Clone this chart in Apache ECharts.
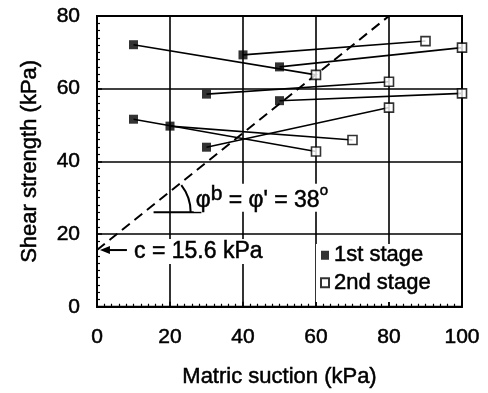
<!DOCTYPE html>
<html>
<head>
<meta charset="utf-8">
<script src="https://cdn.jsdelivr.net/npm/echarts@6/dist/echarts.min.js"></script>
<style>
  html, body { margin: 0; padding: 0; background: #fff; }
  #chart { width: 488px; height: 393px; }
</style>
</head>
<body>
<div id="chart"></div>
<script>
var xTicks = [0, 20, 40, 60, 80, 100];
var yTicks = [0, 20, 40, 60, 80];

// 1st stage point i is joined to 2nd stage point i
var stage1 = [[10, 72.1], [40, 69.3], [50, 66.0], [30, 58.5], [50, 56.7], [10, 51.6], [20, 49.7], [30, 43.9]];
var stage2 = [[60, 63.8], [90, 73.1], [100, 71.3], [80, 61.9], [100, 58.7], [60, 42.7], [70, 45.9], [80, 54.8]];

// failure envelope, c = 15.6 kPa
var envelope = [[0, 15.6], [80, 80]];

var font = '"Liberation Sans", Arial, sans-serif';
var bold = 0.5; // scanned text looks a bit heavy

var series = [];
for (var i = 0; i < stage1.length; i++) {
    series.push({
        type: 'line',
        data: [stage1[i], stage2[i]],
        symbol: 'none',
        silent: true,
        lineStyle: { color: '#000', width: 1.6 },
        z: 3
    });
}

series.push({
    type: 'line',
    data: envelope,
    symbol: 'none',
    silent: true,
    lineStyle: { color: '#000', width: 2, type: [10, 6] },
    z: 3
});

// angle mark, arrow and the two notes
series.push({
    type: 'custom',
    silent: true,
    z: 4,
    data: [[0, 0]],
    renderItem: function (params, api) {
        var c = api.coord([13.6, 26]);
        var b1 = api.coord([15.5, 26]);
        var b2 = api.coord([28.6, 26]);
        var a1 = api.coord([0.8, 15.6]);
        var a2 = api.coord([8.2, 15.6]);
        var t1 = api.coord([26.5, 30]);
        var t2 = api.coord([9.6, 15.2]);
        return {
            type: 'group',
            children: [
                { type: 'line', shape: { x1: b1[0], y1: b1[1], x2: b2[0], y2: b2[1] }, style: { stroke: '#000', lineWidth: 2 } },
                { type: 'arc', shape: { cx: c[0], cy: c[1], r: 44, startAngle: -38 * Math.PI / 180, endAngle: 0, clockwise: true }, style: { stroke: '#000', lineWidth: 2, fill: null } },
                { type: 'line', shape: { x1: a1[0] + 6, y1: a1[1], x2: a2[0], y2: a2[1] }, style: { stroke: '#000', lineWidth: 2 } },
                { type: 'polygon', shape: { points: [[a1[0], a1[1]], [a1[0] + 10, a1[1] - 4], [a1[0] + 10, a1[1] + 4]] }, style: { fill: '#000' } },
                {
                    type: 'text', x: t2[0], y: t2[1],
                    style: { text: 'c = 15.6 kPa', font: '23px ' + font, fill: '#000', stroke: '#000', lineWidth: bold, verticalAlign: 'middle', backgroundColor: '#fff', padding: [1, 2] }
                },
                {
                    type: 'text', x: t1[0], y: t1[1],
                    style: {
                        text: '{m|φ}{s|b}{m| = φ\' = 38}{o|o}',
                        verticalAlign: 'middle',
                        backgroundColor: '#fff',
                        padding: [0, 2],
                        rich: {
                            m: { font: '23px ' + font, fill: '#000', stroke: '#000', lineWidth: bold, lineHeight: 28, verticalAlign: 'bottom' },
                            s: { font: '21px ' + font, fill: '#000', stroke: '#000', lineWidth: bold, lineHeight: 28, verticalAlign: 'top' },
                            o: { font: '15px ' + font, fill: '#000', stroke: '#000', lineWidth: bold, lineHeight: 28, verticalAlign: 'top' }
                        }
                    }
                }
            ]
        };
    }
});

series.push({
    name: '1st stage',
    type: 'scatter',
    data: stage1,
    symbol: 'rect',
    symbolSize: 9,
    itemStyle: { color: '#000' },
    z: 5
});
series.push({
    name: '2nd stage',
    type: 'scatter',
    data: stage2,
    symbol: 'rect',
    symbolSize: 9,
    itemStyle: { color: '#fff', borderColor: '#000', borderWidth: 1.6 },
    z: 5
});

var labelStyle = { fontSize: 21, color: '#000', textBorderColor: '#000', textBorderWidth: bold };
var nameStyle = { fontSize: 22, color: '#000', textBorderColor: '#000', textBorderWidth: bold };

var option = {
    animation: false,
    backgroundColor: '#fff',
    textStyle: { fontFamily: font, color: '#000' },
    grid: {
        left: 97, right: 26, top: 16, bottom: 86,
        show: true, borderColor: '#000', borderWidth: 2
    },
    legend: {
        data: ['1st stage', '2nd stage'],
        orient: 'vertical',
        left: 316, top: 244,
        itemWidth: 8, itemHeight: 9,
        itemGap: 5,
        padding: [0, 30, 8, 4],
        backgroundColor: '#fff',
        textStyle: { fontSize: 22, color: '#000', fontFamily: font, textBorderColor: '#000', textBorderWidth: bold },
        z: 6
    },
    xAxis: {
        type: 'value',
        min: 0, max: 100, interval: 20,
        name: 'Matric suction (kPa)',
        nameLocation: 'middle',
        nameGap: 59,
        nameTextStyle: nameStyle,
        axisLine: { show: true, lineStyle: { color: '#000', width: 2 } },
        axisTick: { show: true, inside: true, length: 5, lineStyle: { color: '#000', width: 1.5 } },
        minorTick: { show: true, splitNumber: 10, length: 3, lineStyle: { color: '#000', width: 1.2 } },
        axisLabel: Object.assign({
            margin: 20,
            formatter: function (v) { return xTicks.indexOf(v) >= 0 ? String(v) : ''; }
        }, labelStyle),
        splitLine: { show: true, lineStyle: { color: '#000', width: 1.6 } }
    },
    yAxis: {
        type: 'value',
        min: 0, max: 80, interval: 20,
        name: 'Shear strength (kPa)',
        nameLocation: 'middle',
        nameGap: 56,
        nameTextStyle: nameStyle,
        axisLine: { show: true, lineStyle: { color: '#000', width: 2 } },
        axisTick: { show: true, inside: true, length: 5, lineStyle: { color: '#000', width: 1.5 } },
        minorTick: { show: true, splitNumber: 10, length: 3, lineStyle: { color: '#000', width: 1.2 } },
        axisLabel: Object.assign({
            margin: 17,
            formatter: function (v) { return yTicks.indexOf(v) >= 0 ? String(v) : ''; }
        }, labelStyle),
        splitLine: { show: true, lineStyle: { color: '#000', width: 1.6 } }
    },
    series: series
};

var chart = echarts.init(document.getElementById('chart'));
chart.setOption(option);
</script>
</body>
</html>
